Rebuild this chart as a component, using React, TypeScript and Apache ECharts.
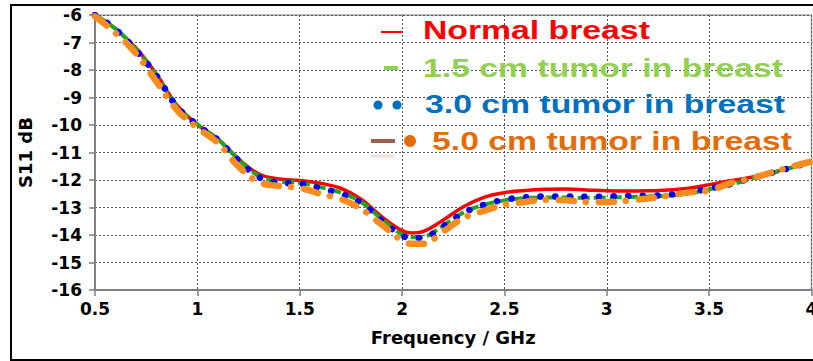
import React, { useEffect, useRef } from "react";
import * as echarts from "echarts";

const freqGHz = [0.5, 0.6, 0.7, 0.8, 0.9, 1.0, 1.1, 1.2, 1.3, 1.4, 1.5, 1.6, 1.7, 1.8, 1.9, 2.0, 2.05, 2.1, 2.2, 2.3, 2.4, 2.5, 2.6, 2.7, 2.8, 2.9, 3.0, 3.1, 3.2, 3.3, 3.4, 3.5, 3.6, 3.7, 3.8, 3.9, 4.0];

const normalBreast = [-6.0, -6.5, -7.2, -8.15, -9.28, -9.98, -10.5, -11.22, -11.78, -11.96, -12.02, -12.12, -12.3, -12.7, -13.33, -13.84, -13.93, -13.88, -13.46, -12.97, -12.63, -12.46, -12.38, -12.34, -12.33, -12.36, -12.39, -12.4, -12.39, -12.36, -12.3, -12.17, -12.03, -11.91, -11.74, -11.55, -11.36];

const tumor15 = [-6.0, -6.5, -7.25, -8.18, -9.3, -9.98, -10.52, -11.25, -11.85, -12.06, -12.1, -12.26, -12.46, -12.8, -13.42, -13.98, -14.08, -14.07, -13.66, -13.18, -12.9, -12.74, -12.66, -12.64, -12.64, -12.65, -12.64, -12.62, -12.6, -12.57, -12.48, -12.34, -12.18, -11.97, -11.77, -11.56, -11.36];

const tumor30 = [-6.0, -6.52, -7.28, -8.2, -9.33, -10.0, -10.54, -11.28, -11.89, -12.1, -12.13, -12.3, -12.5, -12.83, -13.47, -14.02, -14.11, -14.1, -13.68, -13.2, -12.9, -12.72, -12.63, -12.6, -12.6, -12.61, -12.6, -12.58, -12.57, -12.54, -12.45, -12.31, -12.16, -11.95, -11.75, -11.55, -11.35];

const tumor50 = [-6.05, -6.65, -7.4, -8.42, -9.45, -10.1, -10.65, -11.5, -12.08, -12.22, -12.29, -12.5, -12.69, -13.05, -13.62, -14.2, -14.32, -14.32, -13.88, -13.38, -13.12, -12.9, -12.8, -12.72, -12.74, -12.8, -12.8, -12.75, -12.67, -12.57, -12.45, -12.38, -12.12, -11.95, -11.74, -11.52, -11.33];

const seriesNames = ["Normal breast", "1.5 cm tumor in breast", "3.0 cm tumor in breast", "5.0 cm tumor in breast"];
const xAxisTitle = "Frequency / GHz";
const yAxisTitle = "S11 dB";

const pairs = (vals: number[]) => freqGHz.map((f, i) => [f, vals[i]]);

export default function App() {
  const ref = useRef<HTMLDivElement>(null);
  useEffect(() => {
    if (!ref.current) return;
    const chart = echarts.init(ref.current, null, { renderer: "svg" });
    const tickFont = { fontFamily: "DejaVu Sans", fontWeight: "bold" as const, fontSize: 17, color: "#000" };
    const legendFont = 'bold 25px "Liberation Sans"';
    const legendText = (x: number, y: number, text: string, fill: string) => ({
      type: "text",
      x,
      y,
      scaleX: 1.35,
      z: 100,
      style: { text, fill, font: legendFont, textAlign: "left", textVerticalAlign: "middle", align: "left", verticalAlign: "middle" },
    });
    chart.setOption({
      animation: false,
      grid: { left: 95, top: 15, right: 1.5, bottom: 71, show: true, borderColor: "#a8a8a8", borderWidth: 1.5, containLabel: false, outerBoundsMode: "none" },
      xAxis: {
        type: "value",
        min: 0.5,
        max: 4,
        interval: 0.5,
        name: xAxisTitle,
        nameLocation: "middle",
        nameGap: 38,
        nameTextStyle: { fontFamily: "DejaVu Sans", fontWeight: "bold", fontSize: 18, color: "#000" },
        axisLine: { show: true, lineStyle: { color: "#808080", width: 2 } },
        axisTick: { show: true, length: 6, lineStyle: { color: "#808080", width: 1.5 } },
        axisLabel: { ...tickFont, margin: 10, showMaxLabel: true, showMinLabel: true },
        splitLine: { show: true, lineStyle: { color: "#555", width: 1, type: [2, 2] } },
      },
      yAxis: {
        type: "value",
        min: -16,
        max: -6,
        interval: 1,
        name: yAxisTitle,
        nameLocation: "middle",
        nameGap: 61,
        nameTextStyle: { fontFamily: "DejaVu Sans", fontWeight: "bold", fontSize: 18, color: "#000" },
        axisLine: { show: true, lineStyle: { color: "#808080", width: 2 } },
        axisTick: { show: true, length: 6, lineStyle: { color: "#808080", width: 1.5 } },
        axisLabel: { ...tickFont, margin: 13 },
        splitLine: { show: true, lineStyle: { color: "#555", width: 1, type: [2, 2] } },
      },
      series: [
        {
          name: seriesNames[0],
          type: "line",
          data: pairs(normalBreast),
          smooth: 0.4,
          symbol: "none",
          lineStyle: { color: "#ff0000", width: 3.5 },
          z: 2,
        },
        {
          name: seriesNames[1],
          type: "line",
          data: pairs(tumor15),
          smooth: 0.4,
          symbol: "none",
          lineStyle: { color: "#1fa51f", width: 4, type: [12, 4] },
          z: 3,
        },
        {
          name: seriesNames[2],
          type: "line",
          data: pairs(tumor30),
          smooth: 0.4,
          symbol: "none",
          lineStyle: { color: "#0000ff", width: 6.5, type: [0.1, 14.5], cap: "round" },
          z: 4,
        },
        {
          name: seriesNames[3],
          type: "line",
          data: pairs(tumor50),
          smooth: 0.4,
          symbol: "none",
          lineStyle: { color: "#fa8c1e", width: 6.5, type: [15, 12, 0.1, 13], cap: "round" },
          z: 5,
        },
      ],
      graphic: [
        { type: "rect", z: 100, shape: { x: 11, y: 5, width: 840, height: 355 }, style: { fill: "none", stroke: "#000", lineWidth: 2 } },
        { type: "line", z: 100, shape: { x1: 381, y1: 32, x2: 402, y2: 32 }, style: { stroke: "#ff0000", lineWidth: 2 } },
        legendText(423, 30, seriesNames[0], "#ff0000"),
        { type: "line", z: 100, shape: { x1: 384, y1: 68, x2: 398, y2: 68 }, style: { stroke: "#92d050", lineWidth: 4 } },
        legendText(423, 68, seriesNames[1], "#92d050"),
        { type: "circle", z: 100, shape: { cx: 378, cy: 105, r: 4.5 }, style: { fill: "#0070c0" } },
        { type: "circle", z: 100, shape: { cx: 397, cy: 105, r: 4.5 }, style: { fill: "#0070c0" } },
        legendText(425, 104, seriesNames[2], "#0070c0"),
        { type: "line", z: 100, shape: { x1: 371, y1: 141, x2: 395, y2: 141 }, style: { stroke: "#9e5f4f", lineWidth: 4 } },
        { type: "line", z: 100, shape: { x1: 371, y1: 156, x2: 394, y2: 156 }, style: { stroke: "#f2dcdb", lineWidth: 3 } },
        { type: "circle", z: 100, shape: { cx: 410, cy: 141, r: 6 }, style: { fill: "#e36c09" } },
        legendText(432, 141, seriesNames[3], "#e36c09"),
      ],
    });
    return () => chart.dispose();
  }, []);
  return <div ref={ref} style={{ position: "absolute", left: 0, top: 0, width: 813, height: 361 }} />;
}
